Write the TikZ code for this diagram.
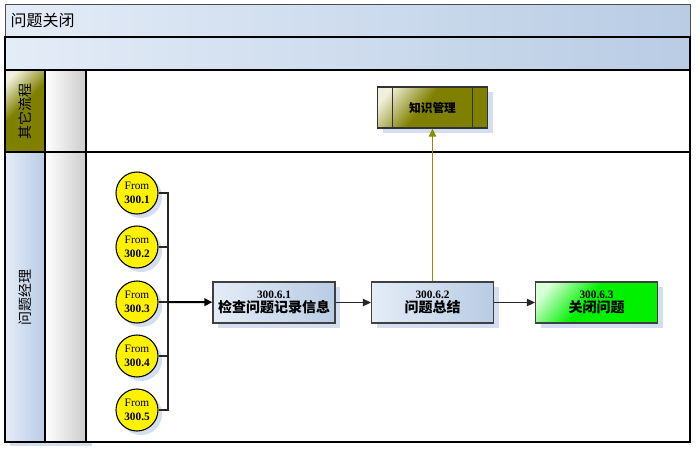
\documentclass[tikz,border=0pt]{standalone}
\usepackage{fontspec}
\setmainfont{Liberation Serif}
\newfontfamily\cjk{Noto Sans CJK SC}
\usetikzlibrary{arrows.meta,shadows}
\definecolor{laneblue}{HTML}{B8CCE4}
\definecolor{paleblue}{HTML}{E4ECF7}
\definecolor{shadowblue}{HTML}{D3DFF0}
\definecolor{kmolive}{HTML}{808000}
\definecolor{kmpale}{HTML}{F0F0DC}
\definecolor{donegreen}{HTML}{00F000}
\pgfdeclarehorizontalshading{oliveglow}{100bp}{color(0bp)=(kmpale); color(22bp)=(kmpale); color(45bp)=(kmolive); color(100bp)=(kmolive)}
\pgfdeclarehorizontalshading{greenglow}{100bp}{color(0bp)=(green!15!white); color(22bp)=(green!15!white); color(45bp)=(donegreen); color(100bp)=(donegreen)}
\begin{document}
\begin{tikzpicture}[x=0.75pt,y=-0.75pt,
            lane/.style = {draw=black,
                line width=1.5pt},
            task/.style = {draw=black!75,
                line width=0.8pt,
                minimum width=91.5pt,
                minimum height=30.75pt,
                inner sep=1pt,
                align=center,
                left color=paleblue,
                right color=laneblue,
                drop shadow={shadow xshift=4pt,shadow yshift=-4pt,fill=shadowblue,opacity=1}},
            from/.style = {circle,
                draw=black,
                line width=0.8pt,
                fill=yellow,
                minimum size=31.5pt,
                inner sep=0pt,
                align=center,
                font=\fontsize{8.5}{10}\selectfont,
                drop shadow={shadow xshift=3pt,shadow yshift=-3pt,fill=shadowblue,opacity=1}},
            flow/.style = {-{Triangle[length=6pt,width=5.5pt]},
                line width=0.8pt,
                draw=black!85}]
        \useasboundingbox (0,0) rectangle (700,451);

        % Pool shadow
        \fill[shadowblue] (10,75) rectangle (92,446);

        % Title
        \draw[draw=black!70,left color=paleblue,right color=laneblue] (5,4) rectangle (690,37);
        \node[anchor=west,font=\cjk\fontsize{12}{14}\selectfont] (title) at (6,20.5) {问题关闭};

        % Header
        \draw[lane,left color=paleblue,right color=laneblue] (5,37) rectangle (690,70);

        % Lanes
        \fill[white] (86,70) rectangle (690,442);
        \fill[shading=oliveglow,shading angle=-45] (5,70) rectangle (45,152);
        \fill[left color=paleblue,right color=laneblue] (5,152) rectangle (45,442);
        \fill[left color=white,right color=black!20] (45,70) rectangle (86,442);
        \draw[lane] (5,70) rectangle (690,442);
        \draw[lane] (5,152) -- (690,152);
        \draw[lane] (45,70) -- (45,442);
        \draw[lane] (86,70) -- (86,442);
        \node[rotate=90,font=\cjk\fontsize{10.5}{12}\selectfont] (L1) at (25,111) {其它流程};
        \node[rotate=90,font=\cjk\fontsize{10.5}{12}\selectfont] (L2) at (25,297) {问题经理};

        % Start events
        \node[from] (c1) at (137,193) {From\\\textbf{300.1}};
        \node[from] (c2) at (137,247) {From\\\textbf{300.2}};
        \node[from] (c3) at (137,302) {From\\\textbf{300.3}};
        \node[from] (c4) at (137,356) {From\\\textbf{300.4}};
        \node[from] (c5) at (137,410) {From\\\textbf{300.5}};
        \coordinate (J) at (168,302);

        % Tasks
        \node[task] (P1) at (274,302.5) {\textbf{\fontsize{8.5}{10}\selectfont 300.6.1}\\[-1pt]{\cjk\bfseries\fontsize{10.5}{12}\selectfont 检查问题记录信息}};
        \node[task] (P2) at (432.5,302.5) {\textbf{\fontsize{8.5}{10}\selectfont 300.6.2}\\[-1pt]{\cjk\bfseries\fontsize{10.5}{12}\selectfont 问题总结}};
        \node[task,shading=greenglow,shading angle=-40] (P3) at (596.5,302.5) {\textbf{\fontsize{8.5}{10}\selectfont 300.6.3}\\[-1pt]{\cjk\bfseries\fontsize{10.5}{12}\selectfont 关闭问题}};

        % Other process
        \node[task,minimum width=83pt,draw=black!80,shading=oliveglow,shading angle=-40,font=\cjk\bfseries\fontsize{8.8}{10}\selectfont] (K) at (432.5,107.5) {知识管理};
        \draw[line width=0.8pt,draw=black!80] ([xshift=12pt]K.north west) -- ([xshift=12pt]K.south west);
        \draw[line width=0.8pt,draw=black!80] ([xshift=-12pt]K.north east) -- ([xshift=-12pt]K.south east);

        % Connectors
        \foreach \i in {1,...,5}
            \draw[line width=0.8pt,draw=black!85] (c\i.east) -| (J);
        \draw[flow,line width=1.5pt,draw=black] (J) -- (P1);
        \draw[flow] (P1) -- (P2);
        \draw[flow] (P2) -- (P3);
        \draw[flow,draw=kmolive!90!yellow,fill=kmolive!90!yellow] (P2) -- (K);

        \end{tikzpicture}
\end{document}
